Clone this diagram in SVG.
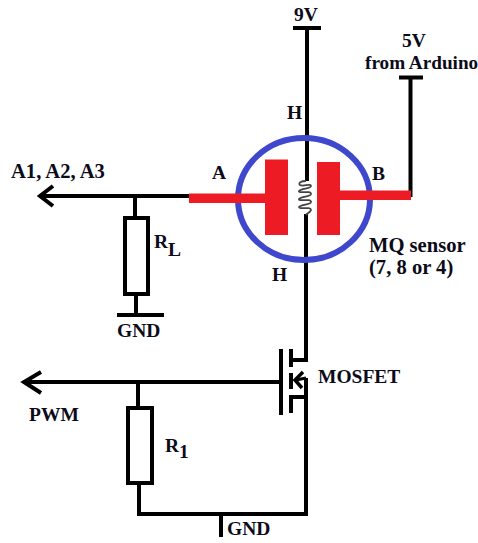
<svg xmlns="http://www.w3.org/2000/svg" width="478" height="543" viewBox="0 0 478 543">
<style>
.w{fill:none;stroke:#000;stroke-width:4}
.c{fill:#fff;stroke:#000;stroke-width:4}
.r{fill:#ed1c24}
text{font-family:"Liberation Serif","Times New Roman",serif;font-weight:bold;font-size:19.500px;fill:#0b0b1a}
.l{font-size:20.600px}
</style>
<rect width="478" height="543" fill="#fff"/>
<g id="connectors">
<path class="w" d="M293 28H321M307 28V181M306 214V360H291M306 378V514M399 77.500H423M410.500 77V197"/>
<path class="w" d="M190 196H40M53 186L40 196L53 206M135 196V218M136 293V315M117 315H164"/>
<path class="w" d="M281 382H24M41 372L24 382L41 393M138 382V408M139 483V514M137 514H308M221 514V537"/>
</g>
<g id="sensor">
<ellipse cx="304" cy="199" rx="66" ry="61" fill="none" stroke="#3f48cc" stroke-width="6"/>
<rect class="r" x="265" y="159.500" width="23" height="75.500"/>
<rect class="r" x="317" y="162" width="23" height="73"/>
<rect class="r" x="189" y="193.500" width="76" height="9.500"/>
<rect class="r" x="340" y="190.500" width="71" height="9.500"/>
<path d="M306 181C301 181 298 183 300 185C303 187 311 183 311 186C311 189 301 188 299 191C298 194 311 190 311 194C311 197 301 196 299 199C298 202 311 198 311 202C311 205 301 204 299 207C299 210 311 206 311 210C310 213 307 213 306 215" fill="none" stroke="#444" stroke-width="1.800"/>
</g>
<g id="resistor-rl"><rect class="c" x="125" y="218" width="23" height="76"/></g>
<g id="resistor-r1"><rect class="c" x="128" y="408" width="24" height="75"/></g>
<g id="mosfet">
<path class="w" d="M281 349V415M291 349V367M291 373V389M291 395V413M291 397H306"/>
<path class="w" d="M296 380L306 378" style="stroke-width:3"/>
<path class="w" d="M303 372L295 380L302 388" style="stroke-width:3.500"/>
</g>
<g id="labels">
<text x="294" y="20.500">9V</text>
<text x="402" y="47">5V</text>
<text x="365" y="68.500" style="font-size:19.200px">from Arduino</text>
<text x="287" y="119">H</text>
<text x="272" y="281">H</text>
<text x="212" y="178.500">A</text>
<text x="372" y="179.500">B</text>
<text class="l" x="369" y="252">MQ sensor</text>
<text class="l" x="369" y="274">(7, 8 or 4)</text>
<text class="l" x="11" y="178">A1, A2, A3</text>
<text x="154" y="248">R</text>
<text x="168" y="256">L</text>
<text x="117" y="337">GND</text>
<text x="318" y="382.500">MOSFET</text>
<text x="29" y="420.500">PWM</text>
<text x="165" y="452">R</text>
<text x="179" y="458">1</text>
<text x="227" y="535">GND</text>
</g>
</svg>
